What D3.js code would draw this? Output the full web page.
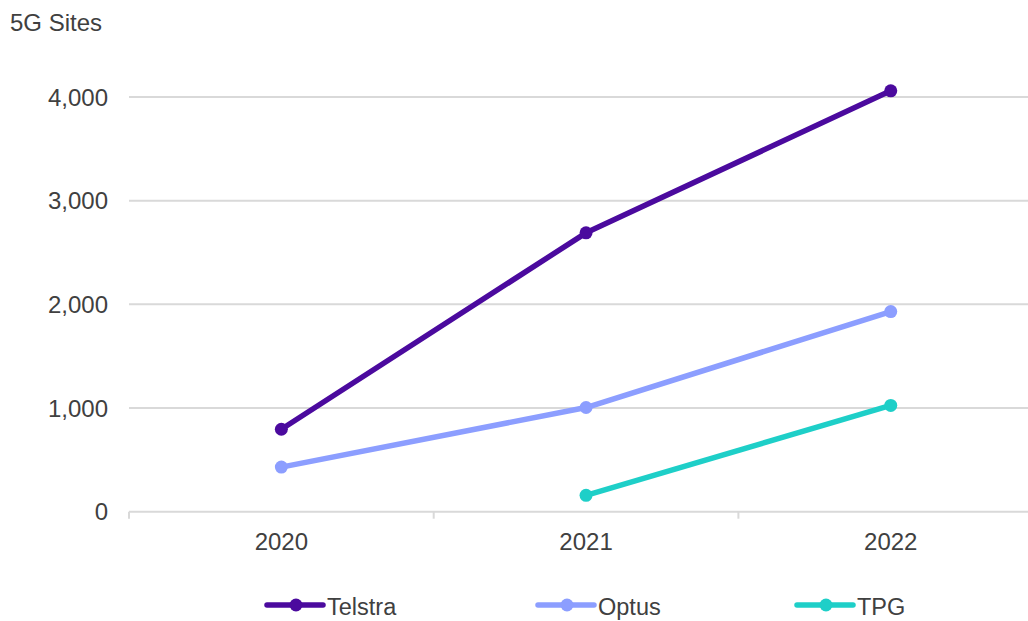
<!DOCTYPE html>
<html>
<head>
<meta charset="utf-8">
<script src="https://cdn.jsdelivr.net/npm/d3@7"></script>
<style>
  body { margin: 0; background: #fff; }
  svg text { font-family: "Liberation Sans", Arial, sans-serif; fill: #404040; }
</style>
</head>
<body>
<div id="chart"></div>
<script>
const years = ["2020", "2021", "2022"];
const telstra = [795, 2690, 4060];
const optus = [430, 1005, 1930];
const tpg = [null, 158, 1025];
const yTicks = [0, 1000, 2000, 3000, 4000];

const series = [
    { name: "Telstra", values: telstra, color: "#4b0a9e" },
    { name: "Optus", values: optus, color: "#8c9eff" },
    { name: "TPG", values: tpg, color: "#1ecfc8" }
];

const width = 1028;
const height = 621;
const margin = { top: 97, left: 129, bottom: 109 };
const band = 304.7;

const svg = d3.select("#chart")
    .append("svg")
    .attr("width", width)
    .attr("height", height);

const x = d3.scaleBand()
    .domain(years)
    .range([margin.left, margin.left + band * years.length])
    .padding(0);

const y = d3.scaleLinear()
    .domain([0, 4000])
    .range([height - margin.bottom - 0.3, margin.top]);

// gridlines
svg.selectAll("line.grid")
    .data(yTicks)
    .enter()
    .append("line")
    .attr("x1", margin.left)
    .attr("x2", width)
    .attr("y1", d => y(d))
    .attr("y2", d => y(d))
    .attr("stroke", "#d9d9d9")
    .attr("stroke-width", 2);

// category tick marks at band edges
const edges = years.map(d => x(d)).concat([x(years[years.length - 1]) + x.bandwidth()]);
svg.selectAll("line.tick")
    .data(edges)
    .enter()
    .append("line")
    .attr("x1", d => d)
    .attr("x2", d => d)
    .attr("y1", y(0))
    .attr("y2", y(0) + 7)
    .attr("stroke", "#d9d9d9")
    .attr("stroke-width", 2);

// y labels
svg.selectAll("text.ylab")
    .data(yTicks)
    .enter()
    .append("text")
    .attr("x", 108)
    .attr("y", d => y(d) + 8.5)
    .attr("text-anchor", "end")
    .attr("font-size", "24px")
    .text(d => d3.format(",")(d));

// x labels
svg.selectAll("text.xlab")
    .data(years)
    .enter()
    .append("text")
    .attr("x", d => x(d) + x.bandwidth() / 2)
    .attr("y", 550)
    .attr("text-anchor", "middle")
    .attr("font-size", "24px")
    .text(d => d);

// axis title
svg.append("text")
    .attr("x", 10)
    .attr("y", 31)
    .attr("font-size", "24px")
    .text("5G Sites");

const line = d3.line()
    .defined(d => d.v != null)
    .x(d => x(d.year) + x.bandwidth() / 2)
    .y(d => y(d.v));

series.forEach(s => {
    const pts = years.map((yr, i) => ({ year: yr, v: s.values[i] }));
    svg.append("path")
        .datum(pts)
        .attr("d", line)
        .attr("fill", "none")
        .attr("stroke", s.color)
        .attr("stroke-width", 5.5)
        .attr("stroke-linejoin", "round");
    svg.selectAll(null)
        .data(pts.filter(d => d.v != null))
        .enter()
        .append("circle")
        .attr("cx", d => x(d.year) + x.bandwidth() / 2)
        .attr("cy", d => y(d.v))
        .attr("r", 6.5)
        .attr("fill", s.color);
});

// legend
const legendX = [267, 538, 797];
series.forEach((s, i) => {
    const g = svg.append("g").attr("transform", `translate(${legendX[i]}, 605)`);
    g.append("line")
        .attr("x1", 0).attr("x2", 56)
        .attr("y1", 0).attr("y2", 0)
        .attr("stroke", s.color)
        .attr("stroke-width", 5.5)
        .attr("stroke-linecap", "round");
    g.append("circle")
        .attr("cx", 29).attr("cy", 0)
        .attr("r", 6.5)
        .attr("fill", s.color);
    g.append("text")
        .attr("x", 60)
        .attr("y", 9.5)
        .attr("font-size", "23.5px")
        .text(s.name);
});
</script>
</body>
</html>
